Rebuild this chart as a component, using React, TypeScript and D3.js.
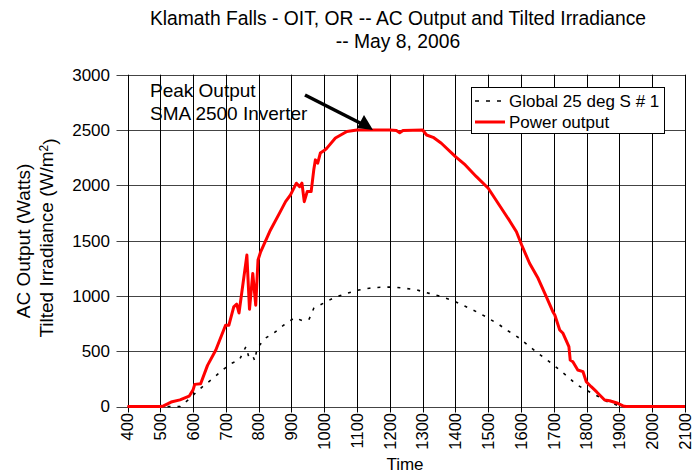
import { useRef, useEffect } from 'react';
import * as d3 from 'd3';

// Power output (Watts) vs time of day (hhmm)
const powerTimes = [400, 500, 510, 533, 560, 588, 600, 605, 623, 644, 669, 699, 709, 724, 733, 740, 764, 772, 782, 791, 798, 806, 836, 866, 882, 897, 915, 925, 932, 939, 948, 960, 968, 973, 980, 988, 1003, 1008, 1034, 1069, 1100, 1200, 1220, 1230, 1240, 1300, 1312, 1332, 1357, 1400, 1430, 1464, 1500, 1535, 1565, 1586, 1602, 1626, 1652, 1677, 1697, 1703, 1718, 1728, 1746, 1750, 1758, 1773, 1789, 1799, 1814, 1830, 1855, 1870, 1895, 1911, 1920, 2100];
const powerValues = [0, 0, 5, 40, 60, 93, 150, 200, 205, 372, 508, 734, 734, 900, 925, 846, 1369, 879, 1203, 916, 1324, 1399, 1596, 1762, 1852, 1913, 2019, 1988, 2019, 1852, 1943, 1943, 2140, 2230, 2200, 2291, 2321, 2336, 2427, 2487, 2500, 2500, 2495, 2475, 2495, 2500, 2455, 2434, 2380, 2259, 2184, 2078, 1973, 1815, 1680, 1580, 1460, 1295, 1159, 993, 857, 827, 692, 662, 541, 420, 405, 330, 315, 224, 179, 134, 59, 52, 29, 5, 0, 0];

// Global 25 deg S #1 irradiance (W/m2)
const irrTimes = [400, 560, 585, 611, 631, 661, 690, 717, 741, 761, 771, 783, 788, 795, 819, 849, 877, 910, 936, 954, 968, 997, 1032, 1066, 1101, 1137, 1171, 1208, 1246, 1283, 1320, 1357, 1393, 1428, 1464, 1496, 1530, 1560, 1593, 1623, 1652, 1683, 1713, 1740, 1767, 1794, 1830, 1862, 1900, 1920, 2100];
const irrValues = [0, 0, 59, 134, 185, 255, 330, 390, 420, 541, 436, 450, 414, 526, 615, 671, 737, 803, 773, 791, 888, 933, 987, 1020, 1051, 1069, 1078, 1080, 1069, 1053, 1023, 993, 957, 908, 857, 806, 746, 685, 622, 550, 481, 412, 342, 276, 203, 155, 100, 45, 5, 0, 0];

const xTicks = d3.range(400, 2101, 100);
const yTicks = d3.range(0, 3001, 500);
const legendLabels = ["Global 25 deg S # 1", "Power output"];

export default function App() {
  const ref = useRef<SVGSVGElement>(null);

  useEffect(() => {
    if (!ref.current) return;
    const width = 695;
    const height = 475;
    const font = "'Liberation Sans', Arial, sans-serif";

    const svg = d3.select(ref.current)
      .attr('width', width)
      .attr('height', height)
      .style('font-family', font);
    svg.selectAll('*').remove();

    const x = d3.scaleLinear().domain([400, 2100]).range([127.5, 685]);
    const y = d3.scaleLinear().domain([0, 3000]).range([406.5, 74.7]);

    // title
    svg.append('text')
      .attr('x', 398).attr('y', 25)
      .attr('text-anchor', 'middle')
      .style('font-size', '19.3px')
      .text('Klamath Falls - OIT, OR -- AC Output and Tilted Irradiance');
    svg.append('text')
      .attr('x', 398).attr('y', 48)
      .attr('text-anchor', 'middle')
      .style('font-size', '19.3px')
      .text('-- May 8, 2006');

    // grid
    svg.append('g').selectAll('line')
      .data(yTicks)
      .join('line')
      .attr('x1', x(400) - 11).attr('x2', x(2100))
      .attr('y1', d => Math.round(y(d)) + 0.5).attr('y2', d => Math.round(y(d)) + 0.5)
      .attr('stroke', '#444').attr('stroke-width', 1);
    svg.append('g').selectAll('line')
      .data(xTicks)
      .join('line')
      .attr('x1', d => Math.round(x(d)) + 0.5).attr('x2', d => Math.round(x(d)) + 0.5)
      .attr('y1', y(3000)).attr('y2', y(0) + 6)
      .attr('stroke', '#000').attr('stroke-width', 1);

    // y tick labels
    svg.append('g').selectAll('text')
      .data(yTicks)
      .join('text')
      .attr('x', 110).attr('y', d => y(d))
      .attr('dy', '0.35em')
      .attr('text-anchor', 'end')
      .style('font-size', '17px')
      .text(d => d);

    // x tick labels
    svg.append('g').selectAll('text')
      .data(xTicks)
      .join('text')
      .attr('transform', d => `translate(${x(d)},413) rotate(-90)`)
      .attr('dy', '0.35em')
      .attr('text-anchor', 'end')
      .style('font-size', '16.5px')
      .text(d => d);

    // axis titles
    svg.append('text')
      .attr('x', 405).attr('y', 470)
      .attr('text-anchor', 'middle')
      .style('font-size', '17px')
      .text('Time');
    svg.append('text')
      .attr('transform', 'translate(30,241) rotate(-90)')
      .attr('text-anchor', 'middle')
      .style('font-size', '19px')
      .text('AC Output (Watts)');
    const yl2 = svg.append('text')
      .attr('transform', 'translate(53,238) rotate(-90)')
      .attr('text-anchor', 'middle')
      .style('font-size', '19px');
    yl2.append('tspan').text('Tilted Irradiance (W/m');
    yl2.append('tspan').attr('dy', '-0.45em').style('font-size', '12px').text('2');
    yl2.append('tspan').attr('dy', '0.45em').text(')');

    // series
    const irr = irrTimes.map((t, i) => [t, irrValues[i]] as [number, number]);
    const pow = powerTimes.map((t, i) => [t, powerValues[i]] as [number, number]);
    const line = d3.line<[number, number]>().x(d => x(d[0])).y(d => y(d[1]));

    svg.append('path')
      .datum(irr)
      .attr('fill', 'none')
      .attr('stroke', '#000')
      .attr('stroke-width', 1.6)
      .attr('stroke-dasharray', '3,7')
      .attr('d', line);
    svg.append('path')
      .datum(pow)
      .attr('fill', 'none')
      .attr('stroke', '#ff0000')
      .attr('stroke-width', 3)
      .attr('stroke-linejoin', 'round')
      .attr('d', line);

    // annotation
    svg.append('text')
      .attr('x', 150).attr('y', 97)
      .style('font-size', '19px')
      .text('Peak Output');
    svg.append('text')
      .attr('x', 150).attr('y', 120)
      .style('font-size', '19px')
      .text('SMA 2500 Inverter');
    svg.append('line')
      .attr('x1', 305).attr('y1', 95)
      .attr('x2', 366).attr('y2', 126)
      .attr('stroke', '#000').attr('stroke-width', 3.5);
    svg.append('path')
      .attr('d', 'M373,130 L357,128 L364,115 Z')
      .attr('fill', '#000');

    // legend
    const lg = svg.append('g');
    lg.append('rect')
      .attr('x', 471.5).attr('y', 87.5)
      .attr('width', 193).attr('height', 46)
      .attr('fill', '#fff').attr('stroke', '#000');
    lg.append('line')
      .attr('x1', 475).attr('x2', 505).attr('y1', 101).attr('y2', 101)
      .attr('stroke', '#000').attr('stroke-width', 1.6).attr('stroke-dasharray', '4,7');
    lg.append('line')
      .attr('x1', 475).attr('x2', 505).attr('y1', 122).attr('y2', 122)
      .attr('stroke', '#ff0000').attr('stroke-width', 3);
    lg.selectAll('text')
      .data(legendLabels)
      .join('text')
      .attr('x', 509).attr('y', (d, i) => 107 + i * 21)
      .style('font-size', '17px')
      .text(d => d);
  }, []);

  return (
    <svg ref={ref} style={{ position: 'absolute', left: 0, top: 0 }}></svg>
  );
}
